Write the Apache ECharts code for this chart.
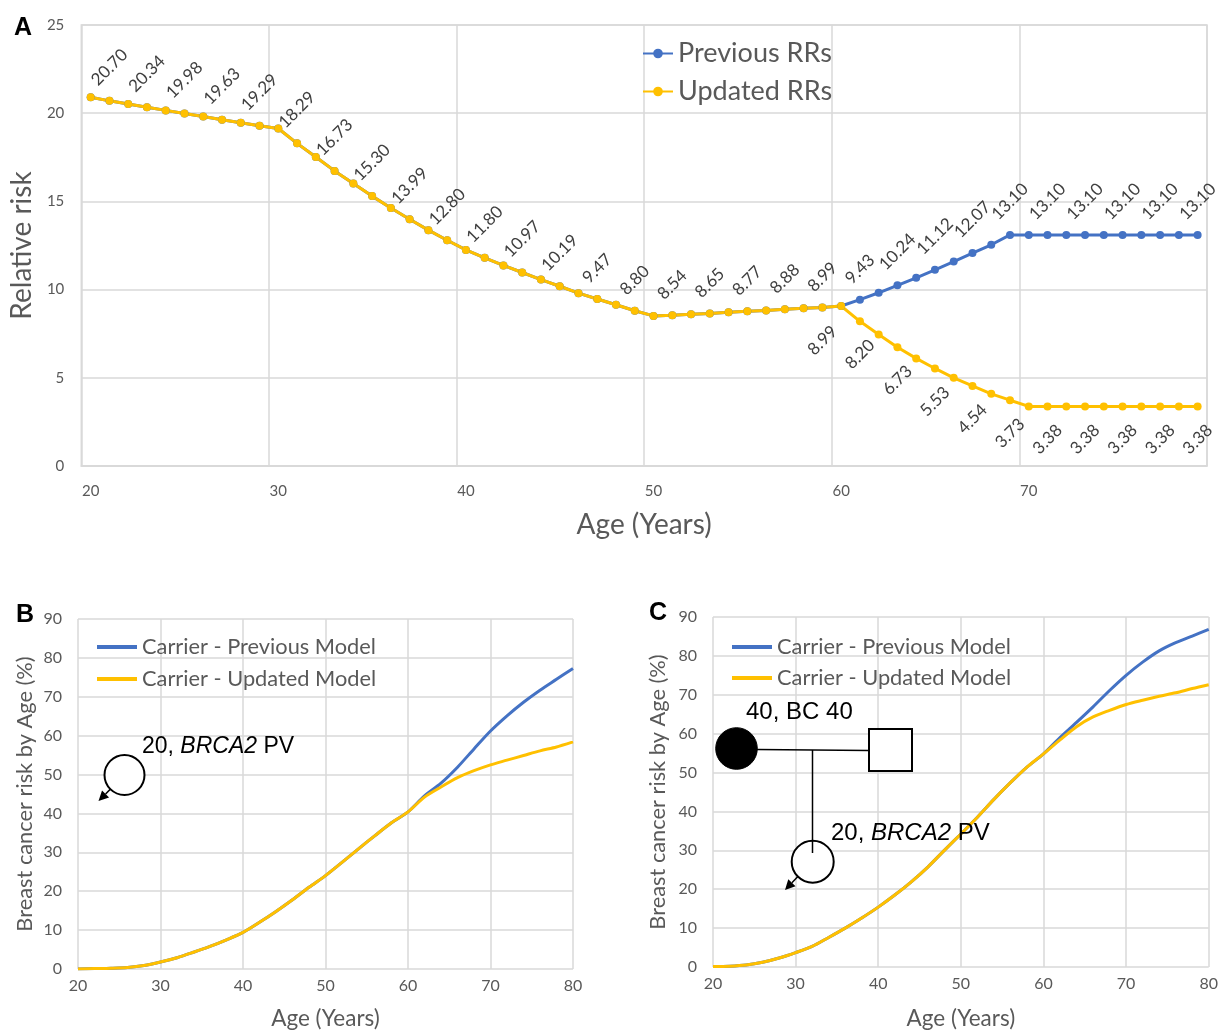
<!DOCTYPE html>
<html><head><meta charset="utf-8">
<script src="https://cdn.jsdelivr.net/npm/echarts@6/dist/echarts.min.js"></script>
<style>html,body{margin:0;padding:0;background:#fff}#c{width:1221px;height:1031px}</style>
</head><body><div id="c"></div>
<script>
// ---------- Panel A data ----------
const agesA = ['20','21','22','23','24','25','26','27','28','29','30','31','32','33','34','35','36','37','38','39',
  '40','41','42','43','44','45','46','47','48','49','50','51','52','53','54','55','56','57','58','59',
  '60','61','62','63','64','65','66','67','68','69','70','71','72','73','74','75','76','77','78','79'];
const updatedRR = [20.90,20.70,20.52,20.34,20.16,19.98,19.81,19.63,19.46,19.29,
  19.13,18.29,17.52,16.73,16.02,15.30,14.63,13.99,13.37,12.80,
  12.25,11.80,11.37,10.97,10.57,10.19,9.80,9.47,9.14,8.80,
  8.51,8.54,8.60,8.65,8.71,8.77,8.82,8.88,8.94,8.99,
  9.07,8.20,7.46,6.73,6.10,5.53,5.00,4.54,4.09,3.73,
  3.38,3.38,3.38,3.38,3.38,3.38,3.38,3.38,3.38,3.38];
const previousRR = [20.90,20.70,20.52,20.34,20.16,19.98,19.81,19.63,19.46,19.29,
  19.13,18.29,17.52,16.73,16.02,15.30,14.63,13.99,13.37,12.80,
  12.25,11.80,11.37,10.97,10.57,10.19,9.80,9.47,9.14,8.80,
  8.51,8.54,8.60,8.65,8.71,8.77,8.82,8.88,8.94,8.99,
  9.07,9.43,9.82,10.24,10.67,11.12,11.59,12.07,12.54,13.10,
  13.10,13.10,13.10,13.10,13.10,13.10,13.10,13.10,13.10,13.10];
const yTicksA = {min:0, max:25, interval:5};

// ---------- Panel B data ----------
const agesBC = [20,22,24,26,28,30,32,34,36,38,40,42,44,46,48,50,52,54,56,58,60,62,64,66,68,70,72,74,76,78,80];
const bUpdated = [0,0.1,0.2,0.4,0.9,1.8,2.9,4.3,5.8,7.5,9.4,12.0,14.8,17.8,21.0,24.0,27.4,30.9,34.3,37.6,40.4,44.2,46.8,49.2,51.0,52.5,53.7,54.9,56.1,57.1,58.4];
const bPrevious = [0,0.1,0.2,0.4,0.9,1.8,2.9,4.3,5.8,7.5,9.4,12.0,14.8,17.8,21.0,24.0,27.4,30.9,34.3,37.6,40.4,44.5,47.8,51.9,56.6,61.2,65.1,68.6,71.7,74.5,77.3];

// ---------- Panel C data ----------
const cUpdated = [0.1,0.2,0.5,1.2,2.3,3.7,5.3,7.6,10.0,12.6,15.4,18.5,21.9,25.7,30.0,34.2,38.5,43.1,47.4,51.4,54.8,58.4,61.8,64.3,66.0,67.5,68.6,69.6,70.5,71.6,72.6];
const cPrevious = [0.1,0.2,0.5,1.2,2.3,3.7,5.3,7.6,10.0,12.6,15.4,18.5,21.9,25.7,30.0,34.2,38.5,43.1,47.4,51.4,54.8,59.0,62.9,66.9,71.1,75.0,78.4,81.3,83.4,85.1,86.8];

const BLUE = '#4472C4', GOLD = '#FFC000', GRID = '#d9d9d9', TXT = '#595959';
const XL = 'Lato, "Open Sans", sans-serif';
const AR = '"Liberation Sans", Arial, sans-serif';

function lbl(v, pos) {
  const t = v.toFixed(2);
  const d = pos === 'top' ? (t.length === 5 ? 29.5 : 26.5) : 29;
  return {show:true, position:pos, distance:d, rotate:45, align:'center', verticalAlign:'middle',
    formatter: t, color:'#404040', fontFamily:XL, fontSize:17};
}
const updData = updatedRR.map((v,i)=>{
  const a = +agesA[i];
  return {value:v, label: a%2===1 ? lbl(v, a<=57 ? 'top':'bottom') : {show:false}};
});
const prevData = previousRR.map((v,i)=>{
  const a = +agesA[i];
  return {value:v, label: (a%2===1 && a>=59) ? lbl(v,'top') : {show:false}};
});
const pairs = (xs, ys) => xs.map((x,i)=>[x, ys[i]]);

const axisTxt = {color:TXT, fontFamily:XL};
const bcX = (gi, gap) => ({type:'value', gridIndex:gi, min:20, max:80, interval:10,
  axisLine:{show:false}, axisTick:{show:false},
  splitLine:{lineStyle:{color:GRID, width:1.5}},
  axisLabel:{...axisTxt, fontSize:16, margin:9},
  name:'Age (Years)', nameLocation:'middle', nameGap:gap,
  nameTextStyle:{...axisTxt, fontSize:22.5}});
const bcY = (gi, gap) => ({type:'value', gridIndex:gi, min:0, max:90, interval:10,
  axisLine:{show:false}, axisTick:{show:false},
  splitLine:{lineStyle:{color:GRID, width:1.5}},
  axisLabel:{...axisTxt, fontSize:16, margin:16},
  name:'Breast cancer risk by Age (%)', nameLocation:'middle', nameGap:gap,
  nameTextStyle:{...axisTxt, fontSize:21.8}});
const bcLine = (name, color, gi, data) => ({type:'line', name, xAxisIndex:gi, yAxisIndex:gi,
  data, showSymbol:false, symbol:'none', smooth:0.3, lineStyle:{color, width:3}, itemStyle:{color}, z:3});

function arrow(tip, edge) {
  const dx = edge[0]-tip[0], dy = edge[1]-tip[1], L = Math.hypot(dx,dy);
  const ux = dx/L, uy = dy/L, bx = tip[0]+ux*10, by = tip[1]+uy*10;
  return [
    {type:'line', shape:{x1:bx,y1:by,x2:edge[0],y2:edge[1]}, style:{stroke:'#000', lineWidth:1.5}, z:100},
    {type:'polygon', shape:{points:[tip,[bx-uy*5,by+ux*5],[bx+uy*5,by-ux*5]]}, style:{fill:'#000'}, z:100}
  ];
}
const pedText = (x,y,txt,fs) => ({type:'text', x, y, z:101,
  style:{text:txt, fill:'#000', font:fs+'px '+AR, textAlign:'left', textVerticalAlign:'middle', align:'left', verticalAlign:'middle',
    rich:{i:{fontStyle:'italic', fontSize:fs, fontFamily:AR, fill:'#000'}}}});
const letter = (x,y,t) => ({type:'text', x, y, z:101,
  style:{text:t, fill:'#000', font:'bold 25px '+AR, textAlign:'center', textVerticalAlign:'middle', align:'center', verticalAlign:'middle'}});

const option = {
  backgroundColor:'#fff',
  animation:false,
  grid:[
    {left:80, top:25, width:1127, height:441, show:true, borderColor:GRID, borderWidth:1.5, containLabel:false},
    {left:78, top:619, width:495, height:350, containLabel:false},
    {left:713, top:617, width:498, height:352, containLabel:false}
  ],
  legend:[
    {data:['Previous RRs','Updated RRs'], orient:'vertical', left:637, top:35, itemWidth:30, itemHeight:12, itemGap:11,
      textStyle:{color:TXT, fontFamily:XL, fontSize:27}},
    {data:['Carrier - Previous Model','Carrier - Updated Model'], orient:'vertical', left:92, top:631, itemWidth:40, itemHeight:4, itemGap:10,
      icon:'rect', textStyle:{color:TXT, fontFamily:XL, fontSize:21.8}},
    {data:['Carrier - Previous Model','Carrier - Updated Model'], orient:'vertical', left:727, top:631, itemWidth:40, itemHeight:4, itemGap:9,
      icon:'rect', textStyle:{color:TXT, fontFamily:XL, fontSize:21.8}}
  ],
  xAxis:[
    {type:'category', gridIndex:0, data:agesA, boundaryGap:true,
      axisLine:{lineStyle:{color:GRID, width:1.5}}, axisTick:{show:false},
      axisLabel:{...axisTxt, fontSize:15, margin:18, interval:9},
      splitLine:{show:true, interval:9, lineStyle:{color:GRID, width:1.5}},
      name:'Age (Years)', nameLocation:'middle', nameGap:45, nameTextStyle:{...axisTxt, fontSize:28}},
    bcX(1, 38), bcX(2, 40)
  ],
  yAxis:[
    {type:'value', gridIndex:0, min:yTicksA.min, max:yTicksA.max, interval:yTicksA.interval,
      axisLine:{show:false}, axisTick:{show:false},
      axisLabel:{...axisTxt, fontSize:15, margin:17},
      splitLine:{lineStyle:{color:GRID, width:1.5}},
      name:'Relative risk', nameLocation:'middle', nameGap:44, nameTextStyle:{...axisTxt, fontSize:28}},
    bcY(1, 42), bcY(2, 44)
  ],
  series:[
    {type:'line', name:'Previous RRs', xAxisIndex:0, yAxisIndex:0, data:prevData,
      symbol:'circle', symbolSize:8, lineStyle:{color:BLUE, width:3}, itemStyle:{color:BLUE}},
    {type:'line', name:'Updated RRs', xAxisIndex:0, yAxisIndex:0, data:updData,
      symbol:'circle', symbolSize:8, lineStyle:{color:GOLD, width:3}, itemStyle:{color:GOLD}},
    bcLine('Carrier - Previous Model', BLUE, 1, pairs(agesBC, bPrevious)),
    bcLine('Carrier - Updated Model', GOLD, 1, pairs(agesBC, bUpdated)),
    bcLine('Carrier - Previous Model', BLUE, 2, pairs(agesBC, cPrevious)),
    bcLine('Carrier - Updated Model', GOLD, 2, pairs(agesBC, cUpdated))
  ],
  graphic:[
    letter(23, 28, 'A'), letter(25, 615, 'B'), letter(658, 613, 'C'),
    // Panel B pedigree
    {type:'circle', shape:{cx:124.5, cy:775, r:20}, style:{fill:'#fff', stroke:'#000', lineWidth:2}, z:100},
    ...arrow([98.5,801],[110.4,789.1]),
    pedText(142, 747, '20, {i|BRCA2} PV', 23),
    // Panel C pedigree
    {type:'circle', shape:{cx:736.5, cy:748.5, r:20.8}, style:{fill:'#000', stroke:'#000', lineWidth:1}, z:100},
    {type:'rect', shape:{x:869, y:729, width:43, height:42}, style:{fill:'#fff', stroke:'#000', lineWidth:2}, z:100},
    {type:'circle', shape:{cx:812.7, cy:861.7, r:21}, style:{fill:'#fff', stroke:'#000', lineWidth:2}, z:100},
    {type:'line', shape:{x1:757, y1:749.5, x2:869, y2:750.5}, style:{stroke:'#000', lineWidth:1.5}, z:101},
    {type:'line', shape:{x1:812.5, y1:750, x2:812.5, y2:853}, style:{stroke:'#000', lineWidth:1.5}, z:101},
    ...arrow([785,890],[797.9,876.5]),
    pedText(746, 712, '40, BC 40', 24),
    pedText(831, 833, '20, {i|BRCA2} PV', 24)
  ]
};
const chart = echarts.init(document.getElementById('c'), null, {renderer:'canvas'});
chart.setOption(option);
</script>
</body></html>
